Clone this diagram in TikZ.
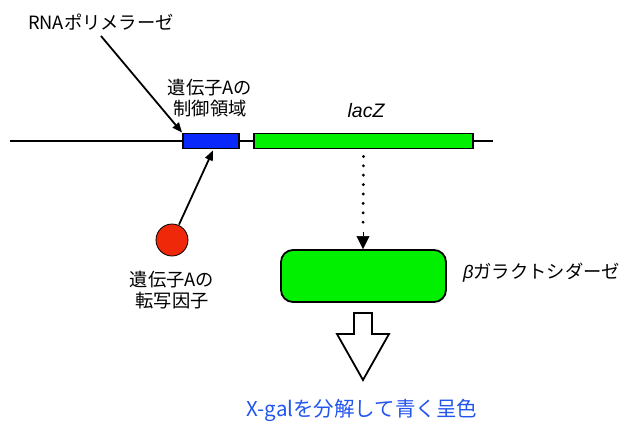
\documentclass[tikz,border=0pt]{standalone}
\usepackage{fontspec}
\setmainfont{Noto Sans CJK JP}
\newfontfamily\latinit{Liberation Sans}
\usetikzlibrary{arrows.meta,calc}
\begin{document}
\begin{tikzpicture}[x=1pt,y=-1pt,
  lbl/.style={font=\fontsize{18.3}{21}\selectfont, align=center, inner sep=0pt},
  gene/.style={draw=black, line width=1.8pt, minimum height=15pt, inner sep=0pt},
  pointer/.style={-{Triangle[length=10pt,width=8pt]}, line width=1.8pt},
]
\useasboundingbox (0,0) rectangle (621,421);
% DNA line
\coordinate (L) at (10,141);
\coordinate (R) at (493,141);
\draw[line width=2.4pt] (L) -- (R);
% genes
\node[gene, fill={rgb,255:red,10;green,40;blue,250}, minimum width=56pt] (ctrl) at (211,141) {};
\node[gene, fill={rgb,255:red,0;green,240;blue,0}, minimum width=219pt] (lacz) at (363.5,141) {};
% labels
\node[lbl] (rnap) at (101,22) {RNAポリメラーゼ};
\node[lbl] (ctrllbl) at (210,98) {遺伝子Aの\\制御領域};
\node[font=\latinit\itshape\fontsize{19.5}{19.5}\selectfont, inner sep=0pt] (laczlbl) at (366,111) {lacZ};
% transcription factor
\node[circle, draw=black, line width=0.8pt, fill={rgb,255:red,240;green,40;blue,10}, minimum size=32pt, inner sep=0pt] (tf) at (172,240) {};
\node[lbl] (tflbl) at (172,290) {遺伝子Aの\\転写因子};
% enzyme
\node[draw=black, line width=1.8pt, fill={rgb,255:red,0;green,240;blue,0}, rounded corners=12pt, minimum width=165pt, minimum height=52pt, inner sep=0pt] (enz) at (363.5,276) {};
\node[lbl, anchor=west] (enzlbl) at (463,273) {{\latinit\itshape β}ガラクトシダーゼ};
% result text
\node[font=\fontsize{20.5}{22}\selectfont, text={rgb,255:red,34;green,85;blue,238}, inner sep=0pt] (res) at (362,410) {X-galを分解して青く呈色};
% arrows
\coordinate (rs) at (101,36);
\draw[pointer] (rs) -- (ctrl.north west);
\draw[pointer] ($(tf.north)+(7,1)$) -- ($(ctrl.south)+(2,1)$);
\draw[line width=3.2pt, dash pattern=on 0pt off 9.4pt, line cap=round] ($(lacz.south)+(0,7)$) -- (363,230);
\draw[line width=0.5pt, -{Triangle[length=13pt,width=13pt]}] (363,232) -- (enz.north -| 363,0);
% hollow arrow
\draw[line width=1.8pt, fill=white, line join=miter]
  (354,313) -- (372,313) -- (372,334) -- (389,334) -- (363,380) -- (337,334) -- (354,334) -- cycle;
\end{tikzpicture}
\end{document}
